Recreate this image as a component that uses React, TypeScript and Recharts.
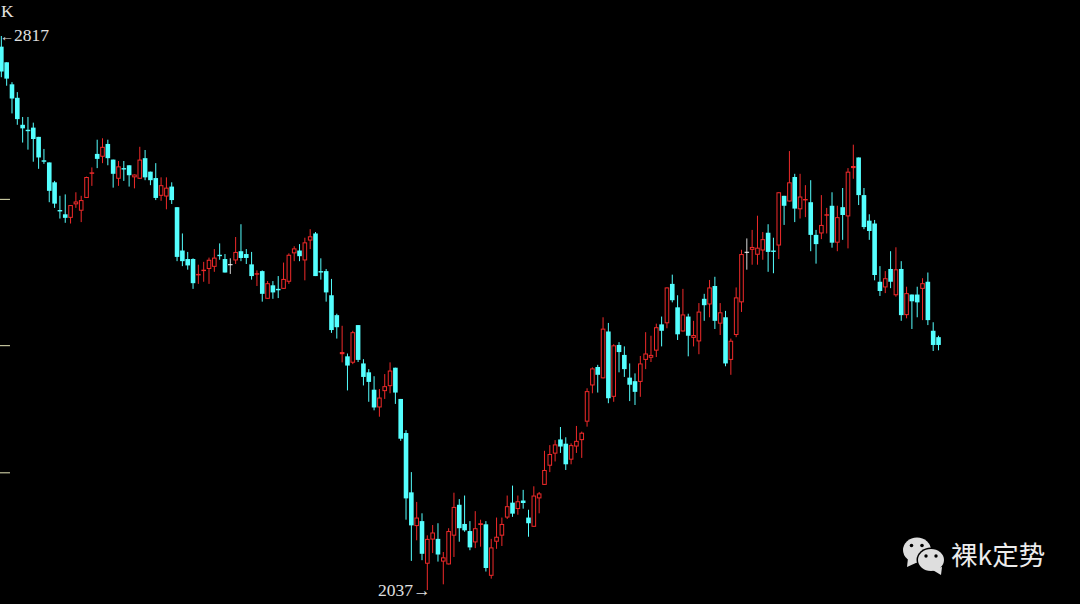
import React from "react";
import { Bar, ComposedChart, ReferenceLine, XAxis, YAxis } from "recharts";

const opens = [
  2802,2780,2749,2730,2692,2685,2688,2675,2642,2639,
  2611,2572,2566,2561,2580,2571,2589,2623,2651,2647,
  2665,2643,2616,2631,2635,2618,2616,2645,2626,2617,
  2592,2591,2605,2576,2515,2503,2503,2480,2486,2489,
  2492,2509,2503,2495,2501,2514,2510,2495.5,2481,2486,
  2447,2466,2461,2461,2471,2511,2515,2501,2529,2539,
  2486,2486,2452,2424,2369,2366,2357,2410,2356,2343.5,
  2319,2294,2317,2324,2350,2306,2258,2174.5,2127,2134,
  2074,2108,2109,2077,2073,2113.5,2157,2130,2120,2104,
  2128.5,2129.5,2057,2105,2113.5,2139,2160,2151,2163,2139,
  2126,2166,2185,2212,2229,2249,2243,2220.5,2239,2248,
  2274,2325,2351,2335,2401,2309,2382,2368,2336,2331,
  2330,2361,2364,2374,2411,2412.5,2468,2435,2401,2422,
  2392,2387,2447,2439,2465,2412,2421,2361,2396,2442,
  2512.5,2516,2509,2515,2540,2515,2522,2592,2584,2618.5,
  2573,2586,2583,2537,2539,2565,2578,2526,2576,2563,
  2631,2646,2593,2557,2553,2471,2463,2489,2452,2489,
  2424,2453,2453,2461,2471,2402,2393,
];
const closes = [
  2767,2757,2729,2700,2687,2683,2672,2646,2640,2599,
  2581,2570,2561,2579,2584,2586,2618.5,2625,2644,2661,
  2645,2623,2633.5,2630,2621,2622,2643,2618,2614,2589,
  2607,2603.5,2586,2506,2500,2494,2469,2482,2488,2502,
  2505,2508,2484,2495,2513,2504.5,2504.5,2479,2483,2454,
  2469,2456,2459,2475,2509,2518,2507,2526.5,2535,2479,
  2484,2456,2403,2407,2372,2353,2400,2361,2337,2330,
  2294,2308,2324,2346,2315,2250,2166,2128,2139,2088,
  2109,2118,2087,2083,2120,2154,2124,2121,2097,2124,
  2131,2068,2097,2112,2130,2155,2144.5,2162,2159.5,2131,
  2170,2173,2206,2228.5,2242,2239,2214,2241,2247,2258.5,
  2317,2349,2340,2405,2307,2381.5,2372,2348,2326,2316,
  2356,2370,2368,2407,2402,2463,2445,2397,2425,2395,
  2396,2429,2438,2463,2416,2428,2356,2388,2449,2510,
  2512.5,2520,2519,2531,2513,2513,2597,2578,2611,2574,
  2591,2587.5,2537,2524,2551,2566,2526,2562,2565,2626,
  2634,2593,2548,2542.5,2480.5,2458,2476,2471,2488.5,2424,
  2455,2443.5,2442,2469,2417,2382,2382,
];
const highs = [
  2817,2780,2752,2738,2703,2703,2695,2675,2658,2639,
  2613,2592,2594,2579,2597,2592,2619,2632,2671,2673,
  2671,2643,2641,2641,2635,2622,2661,2656.5,2626,2638,
  2618,2618,2611,2576,2539,2513,2504,2495,2499,2505,
  2517,2525,2510,2504,2534,2552,2517,2513,2487,2487,
  2472,2472,2479,2498,2511,2521,2524,2533,2545,2541,
  2504,2489,2475,2426,2409,2370,2402,2410,2362,2348,
  2338,2320,2341,2357.5,2350,2306,2262,2203,2161,2145,
  2114,2128.5,2131,2090.5,2124,2174,2165,2170,2134,2148,
  2136,2134,2109,2139,2139,2170,2184,2170,2178,2150,
  2183,2175,2233,2241,2248,2266.5,2252,2243.5,2268,2260,
  2321,2350.5,2354,2421,2413,2383,2386,2380,2356,2342,
  2366.5,2400,2395,2412,2422,2463,2481,2452,2461,2426,
  2416,2441,2454,2473.5,2478,2441,2430,2391,2463,2516,
  2532,2544,2564,2541,2552,2533,2597,2592,2655,2623,
  2623,2607,2614,2544,2593,2575,2597,2578,2603,2631,
  2664,2646,2603,2566,2558,2493,2486,2514,2519.5,2500,
  2464,2453,2464,2476,2484,2414,2395,
];
const lows = [
  2759,2747,2708,2692,2667,2657,2640,2630,2637,2583,
  2575,2560,2554,2553,2575,2555,2589,2606,2631,2638,
  2635,2603.5,2606,2613,2605,2602.5,2616,2614,2607,2586,
  2585,2573,2580.5,2500,2493,2488,2461,2468,2471,2468,
  2485,2502,2484,2482,2496,2500,2496,2474,2465,2443,
  2447,2447,2448,2461,2468,2500,2500,2473,2517,2479,
  2474,2443,2399,2391,2357.5,2318,2355,2358,2325,2302,
  2290,2281,2306,2314,2299,2247,2136,2078,2107,2079,
  2037,2089,2077,2045,2073,2083.5,2105,2119,2093,2096,
  2098,2063,2053,2095,2099,2137,2140,2143,2151.5,2112,
  2126,2145,2185,2203,2218,2230,2206,2214,2230,2223,
  2267,2314,2315,2335,2300,2302,2343.5,2337,2303,2297.5,
  2309,2348,2358,2365,2380,2405.5,2442,2389,2401,2366,
  2380,2369,2416,2421,2404.5,2396,2352,2340,2393,2428.5,
  2488,2495,2495,2502,2485,2483,2503,2551,2584,2555,
  2560,2562,2514,2496.5,2531,2539,2519,2514,2530,2518,
  2616,2579,2545,2530,2473,2451,2455,2462,2450,2416,
  2419.5,2404.5,2421,2417,2410,2373.5,2374.5,
];
const leftTicks = [2587, 2381, 2202];
const highArrow = "←";
const highValue = "2817";
const lowLabel = "2037→";
const title = "K";
const brand = "裸k定势";

const candles = opens.map((open, i) => ({
  i,
  open,
  close: closes[i],
  high: highs[i],
  low: lows[i],
}));

const CYAN = "#54ffff";
const RED = "#f02a2a";
const serif = "'Liberation Serif', serif";

function Candle(props: any) {
  const { x, y, width, height, payload } = props;
  const { open, close, high, low } = payload;
  const k = Math.abs(height) / (high - low);
  const yOf = (v: number) => y + (high - v) * k;
  const cx = x + width / 2;
  const top = yOf(Math.max(open, close));
  const bottom = yOf(Math.min(open, close));
  const bw = 4.6;
  if (open === close) {
    return (
      <g>
        <line x1={cx} x2={cx} y1={y} y2={y + Math.abs(height)} stroke="#d8d8d8" strokeWidth={1} />
        <line x1={cx - bw / 2} x2={cx + bw / 2} y1={top} y2={top} stroke="#ffffff" strokeWidth={1} />
      </g>
    );
  }
  const up = close > open;
  const color = up ? RED : CYAN;
  const thin = bottom - top < 2.6;
  return (
    <g>
      <line x1={cx} x2={cx} y1={y} y2={y + Math.abs(height)} stroke={color} strokeWidth={1} />
      {up && !thin ? (
        <rect
          x={cx - bw / 2 + 0.5}
          y={top + 0.5}
          width={bw - 1}
          height={Math.max(bottom - top - 1, 0.5)}
          fill="#000000"
          stroke={color}
          strokeWidth={1}
        />
      ) : (
        <rect x={cx - bw / 2} y={top} width={bw} height={Math.max(bottom - top, 1.4)} fill={color} />
      )}
    </g>
  );
}

function labelStyle(left: number, top: number): React.CSSProperties {
  return {
    position: "absolute",
    left,
    top,
    fontFamily: serif,
    fontSize: 17.5,
    lineHeight: "18px",
    color: "#e0e0e0",
    whiteSpace: "nowrap",
  };
}

export default function App() {
  return (
    <div style={{ position: "absolute", left: 0, top: 0, width: 1080, height: 604, background: "#000000", overflow: "hidden" }}>
      <ComposedChart
        width={1080}
        height={604}
        data={candles}
        margin={{ top: 0, right: 0, bottom: 0, left: 0 }}
      >
        <XAxis dataKey="i" type="number" domain={[-0.2817, 202.54]} allowDataOverflow hide />
        <YAxis type="number" domain={[2017.3, 2867.7]} allowDataOverflow hide />
        {leftTicks.map((t) => (
          <ReferenceLine
            key={t}
            segment={[{ x: -0.2817, y: t }, { x: 1.596, y: t }]}
            stroke="#e6e6b8"
            strokeWidth={1}
            ifOverflow="visible"
          />
        ))}
        <Bar dataKey={(d: any) => [d.low, d.high]} barSize={5} shape={<Candle />} isAnimationActive={false} />
      </ComposedChart>
      <div style={labelStyle(1, 2)}>{title}</div>
      <div style={labelStyle(0, 26)}>
        <span style={{ fontSize: 14 }}>{highArrow}</span>
        {highValue}
      </div>
      <div style={labelStyle(378, 581)}>{lowLabel}</div>
      <svg width={46} height={42} style={{ position: "absolute", left: 901, top: 534 }}>
        <path d="M6 33 L7 24 L17 28 Z" fill="#dedede" />
        <ellipse cx={16} cy={16} rx={14} ry={12.5} fill="#dedede" />
        <circle cx={10.5} cy={11.5} r={1.8} fill="#000" />
        <circle cx={21} cy={11.5} r={1.8} fill="#000" />
        <ellipse cx={30} cy={26} rx={14.5} ry={12.5} fill="#000" />
        <path d="M40 41 L30 35 L41 33 Z" fill="#dedede" />
        <ellipse cx={30} cy={26} rx={13} ry={11} fill="#dedede" />
        <circle cx={25} cy={22} r={1.7} fill="#000" />
        <circle cx={35} cy={22} r={1.7} fill="#000" />
      </svg>
      <div
        style={{
          position: "absolute",
          left: 951,
          top: 538,
          fontFamily: "'Noto Sans CJK SC', sans-serif",
          fontSize: 26.5,
          lineHeight: "32px",
          color: "#ececec",
          whiteSpace: "nowrap",
        }}
      >
        {brand}
      </div>
    </div>
  );
}
